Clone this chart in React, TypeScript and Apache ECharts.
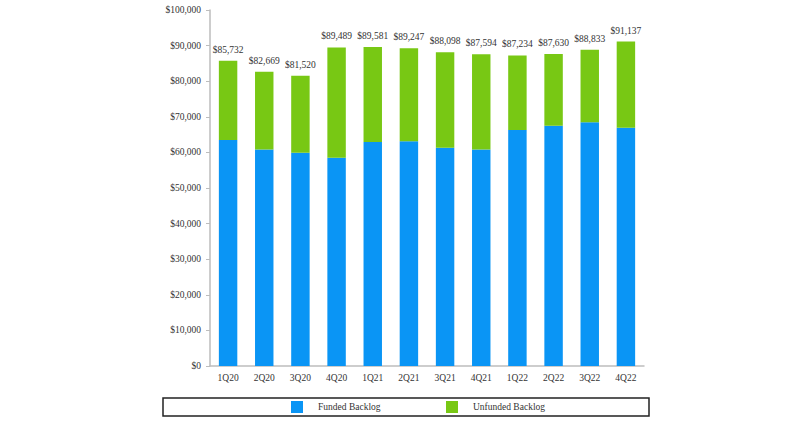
import React, { useEffect, useRef } from "react";
import * as echarts from "echarts";

const categories = ["1Q20", "2Q20", "3Q20", "4Q20", "1Q21", "2Q21", "3Q21", "4Q21", "1Q22", "2Q22", "3Q22", "4Q22"];
const totals = [85732, 82669, 81520, 89489, 89581, 89247, 88098, 87594, 87234, 87630, 88833, 91137];
const funded = [63500, 60800, 59900, 58500, 62900, 63100, 61300, 60800, 66300, 67500, 68500, 66900];
const unfunded = totals.map((t, i) => t - funded[i]);
const legendNames = ["Funded Backlog", "Unfunded Backlog"];

const fmt = (v: number) => "$" + v.toLocaleString("en-US");
const FONT = "'Liberation Serif', 'Times New Roman', serif";

export default function App() {
  const ref = useRef<HTMLDivElement>(null);
  useEffect(() => {
    if (!ref.current) return;
    const chart = echarts.init(ref.current, null, { renderer: "svg" });
    const legendText = {
      color: "#333",
      fontSize: 9.5,
      fontFamily: FONT,
      padding: [0, 0, 0, 10],
      lineHeight: 12,
      height: 12,
      verticalAlign: "middle",
    };
    chart.setOption({
      animation: false,
      backgroundColor: "#ffffff",
      textStyle: { fontFamily: FONT },
      grid: { left: 210, right: 165, top: 10, bottom: 58 },
      xAxis: {
        type: "category",
        data: categories,
        axisLine: { lineStyle: { color: "#bdbdbd", width: 1.5 } },
        axisTick: { show: false },
        axisLabel: { color: "#333", fontSize: 9.5, fontFamily: FONT, margin: 7 },
      },
      yAxis: {
        type: "value",
        min: 0,
        max: 100000,
        interval: 10000,
        splitLine: { show: false },
        axisLine: { show: true, lineStyle: { color: "#bdbdbd", width: 1.5 } },
        axisTick: { show: true, length: 4, lineStyle: { color: "#bdbdbd" } },
        axisLabel: { color: "#333", fontSize: 9.5, fontFamily: FONT, margin: 9, formatter: (v: number) => fmt(v) },
      },
      legend: [
        {
          data: [legendNames[0]],
          left: 291,
          top: 401,
          padding: 0,
          itemWidth: 12,
          itemHeight: 12,
          icon: "rect",
          textStyle: legendText,
        },
        {
          data: [legendNames[1]],
          left: 446,
          top: 401,
          padding: 0,
          itemWidth: 12,
          itemHeight: 12,
          icon: "rect",
          textStyle: legendText,
        },
      ],
      graphic: [
        {
          type: "rect",
          shape: { x: 163, y: 398, width: 486, height: 18 },
          style: { fill: "none", stroke: "#222", lineWidth: 1.5 },
        },
      ],
      series: [
        {
          name: legendNames[0],
          type: "bar",
          stack: "b",
          data: funded,
          barWidth: "51%",
          itemStyle: { color: "#0A95F5" },
        },
        {
          name: legendNames[1],
          type: "bar",
          stack: "b",
          data: unfunded,
          barWidth: "51%",
          itemStyle: { color: "#78C814" },
          label: {
            show: true,
            position: "top",
            distance: 6,
            color: "#333",
            fontSize: 9.5,
            fontFamily: FONT,
            formatter: (p: any) => fmt(totals[p.dataIndex]),
          },
        },
      ],
    });
    return () => chart.dispose();
  }, []);
  return <div ref={ref} style={{ position: "fixed", left: 0, top: 0, width: 809, height: 424 }} />;
}
